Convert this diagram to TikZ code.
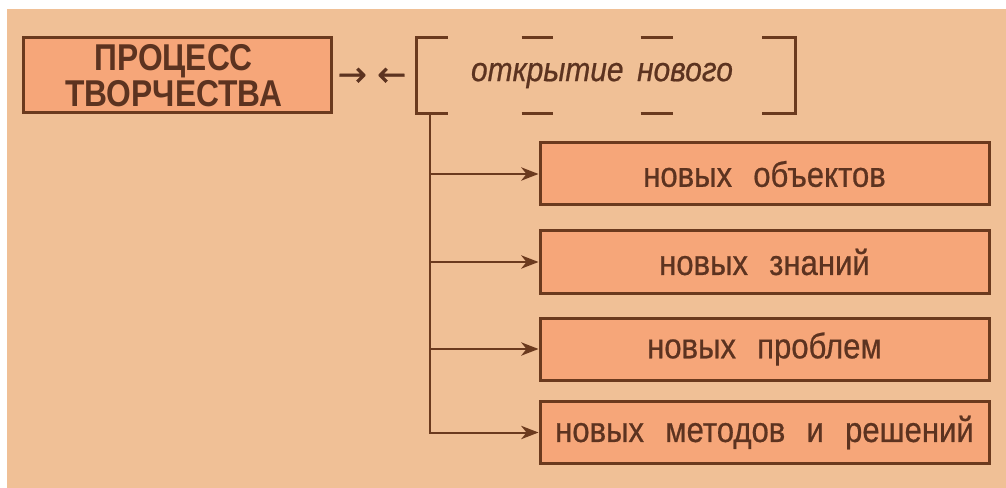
\documentclass[tikz,border=0pt]{standalone}
\usepackage{fontspec}
\setmainfont[FakeStretch=0.85]{Liberation Sans}
\newfontfamily\itemfont[FakeStretch=0.88,FakeBold=0.6]{Liberation Sans}
\newfontfamily\arrowfont[FakeBold=1]{DejaVu Sans}
\usetikzlibrary{arrows.meta,calc}
\definecolor{bg}{HTML}{F0C096}
\definecolor{boxfill}{HTML}{F6A679}
\definecolor{brn}{HTML}{6B3A1E}
\definecolor{txt}{HTML}{5C3320}
\tikzset{
  mainbox/.style={draw=brn, fill=boxfill, line width=2.25pt, minimum width=231pt, minimum height=56.25pt, inner sep=0pt, align=center, text=txt, font=\bfseries\fontsize{28}{27.5}\selectfont},
  itembox/.style={draw=brn, fill=boxfill, line width=2.25pt, minimum width=336.75pt, minimum height=46.5pt, inner sep=0pt, text=txt, font=\itemfont\fontsize{26.5}{28}\selectfont},
  brk/.style={draw=brn, line width=2.25pt},
  conn/.style={draw=brn, line width=1.5pt, -{Stealth[length=13pt,width=10pt,inset=4pt]}},
}
\newcommand{\ws}{\hspace{0.6em}}
\begin{document}
\begin{tikzpicture}[x=0.75pt,y=-0.75pt]
\useasboundingbox (0,0) rectangle (1006,488);
\fill[white] (0,0) rectangle (1006,488);
\fill[bg] (7,9) rectangle (1006,488);

\node[mainbox] (main) at (177,75.5) {\hspace{-5pt}ПРОЦЕСС\\\hspace{-5pt}ТВОРЧЕСТВА};
\node[text=txt, font=\arrowfont\fontsize{26}{26}\selectfont, inner sep=0pt] (arr) at (372,77) {→\hspace{0.3em}←};

\node[minimum width=283.5pt, minimum height=56.25pt, inner sep=0pt, text=txt, font=\itemfont\itshape\fontsize{25.5}{28}\selectfont] (open) at (606,75.5) {\hspace{-6pt}открытие\hspace{0.4em}нового};
\draw[brk] ($(open.north west)+(31,0)$) -- (open.north west) -- (open.south west) -- ++(31,0);
\draw[brk] ($(open.north east)+(-33,0)$) -- (open.north east) -- (open.south east) -- ++(-33,0);
\draw[brk] ($(open.north west)+(105,0)$) -- ++(31,0);
\draw[brk] ($(open.north west)+(224,0)$) -- ++(32,0);
\draw[brk] ($(open.south west)+(105,0)$) -- ++(31,0);
\draw[brk] ($(open.south west)+(224,0)$) -- ++(32,0);

\node[itembox] (b1) at (764.5,174) {новых\ws объектов};
\node[itembox] (b2) at (764.5,262) {новых\ws знаний};
\node[itembox] (b3) at (764.5,349) {новых\ws проблем};
\node[itembox] (b4) at (764.5,432.5) {новых\ws методов\ws и\ws решений};

\coordinate (v0) at ($(open.south west)+(13,0)$);
\draw[conn] (v0) |- (b1.west);
\draw[conn] (v0) |- (b2.west);
\draw[conn] (v0) |- (b3.west);
\draw[conn] (v0) |- (b4.west);
\end{tikzpicture}
\end{document}
